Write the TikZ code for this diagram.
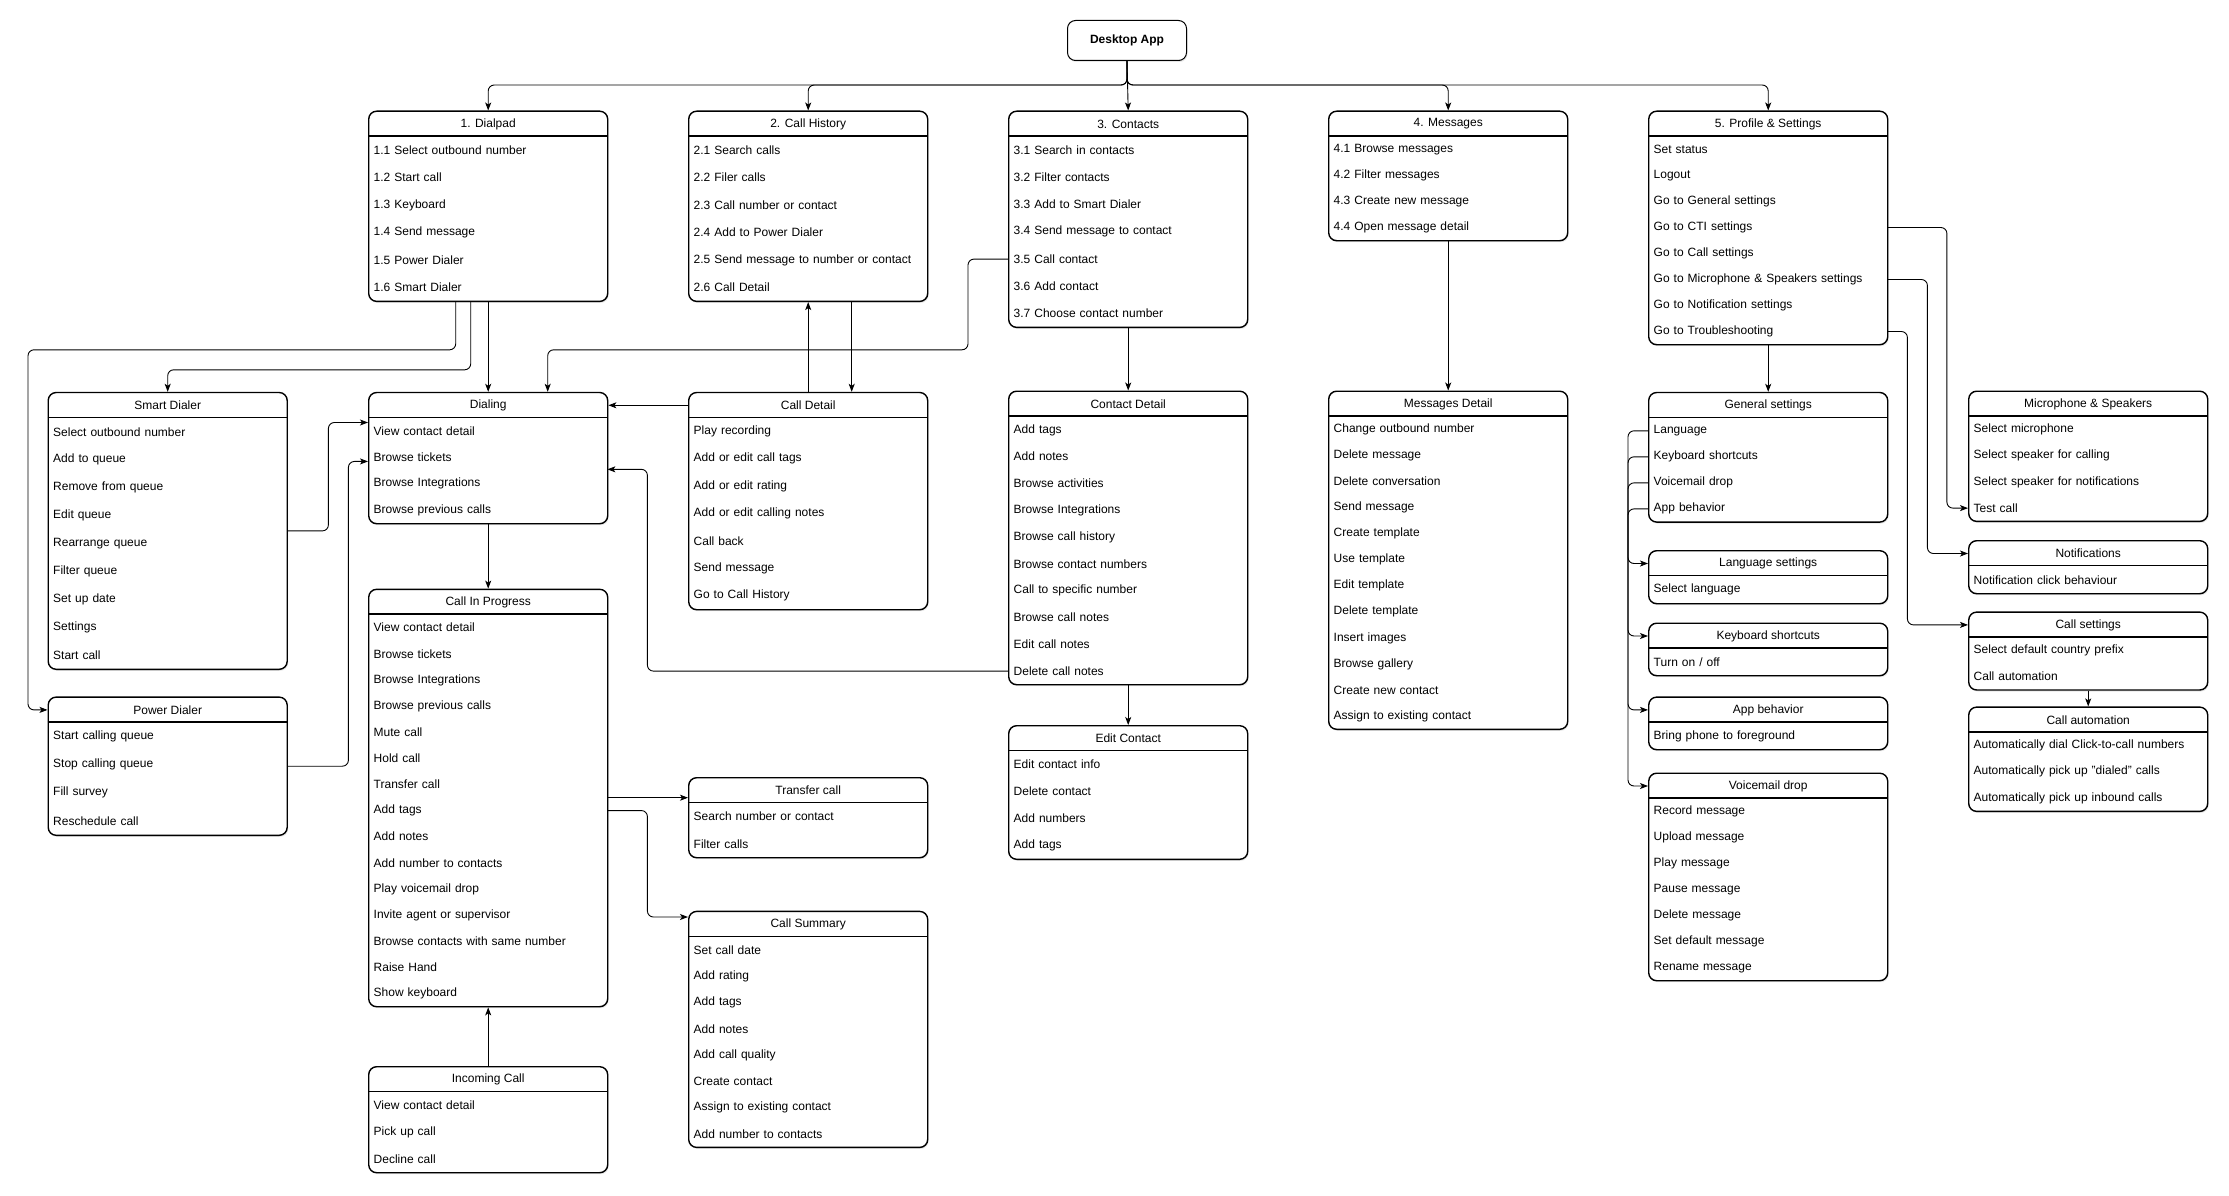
\documentclass[tikz,border=0pt]{standalone}
\usepackage{fontspec}
\setmainfont{Liberation Sans}
\usetikzlibrary{arrows.meta,positioning,calc,shadows}

% one screen: name, left, top, bottom, title, entries
\newcommand{\screenbox}[6]{%
  \pgfmathsetmacro\boxh{#4-#3}
  \node[screen, minimum height=\boxh pt, anchor=north west] (#1) at (#2,#3) {};
  \node[head] (#1-t) at ($(#1.north)+(0,13.5)$) {#5};
  \draw[rule] ($(#1.north west)+(0,25.5)$) -- ($(#1.north east)+(0,25.5)$);
  \foreach \e [count=\i] in {#6} {\xdef\nrows{\i}}
  \pgfmathsetmacro\rowh{(\boxh-25.5)/\nrows}
  \foreach \e [count=\i] in {#6}
    \node[entry] (#1-\i) at ($(#1.north west)+(0,{25.5+(\i-0.5)*\rowh+0.5})$) {\e};
}

\begin{document}
\begin{tikzpicture}[
  x=1pt, y=-1pt,
  screen/.style={draw, line width=1.4pt, rounded corners=8pt, fill=white,
                 minimum width=239pt, inner sep=0pt,
                 drop shadow={opacity=.2, shadow xshift=1pt, shadow yshift=-1.5pt}},
  head/.style={font=\fontsize{12}{14}\selectfont, inner sep=0pt},
  rule/.style={line width=1.4pt},
  entry/.style={anchor=west, text width=228pt, inner xsep=5.5pt, inner ysep=0pt,
                align=left, font=\fontsize{12}{14}\selectfont},
  link/.style={draw, line width=0.9pt, rounded corners=6pt,
               -{Stealth[length=8pt,width=6pt,inset=2pt]}}
]
  \useasboundingbox (0,0) rectangle (2229,1196);

  \node[screen, line width=1pt, minimum width=119pt, minimum height=40pt,
        font=\bfseries\fontsize{12}{14}\selectfont] (desktop) at (1127,40.5) {Desktop App};

  % main sections
  \screenbox{dialpad}{368}{110.5}{300.7}{1. Dialpad}{1.1 Select outbound number,1.2 Start call,
    1.3 Keyboard,1.4 Send message,1.5 Power Dialer,1.6 Smart Dialer}
  \screenbox{history}{688}{110.5}{300.7}{2. Call History}{2.1 Search calls,2.2 Filer calls,
    2.3 Call number or contact,2.4 Add to Power Dialer,2.5 Send message to number or contact,
    2.6 Call Detail}
  \screenbox{contacts}{1008}{110.5}{326.7}{3. Contacts}{3.1 Search in contacts,3.2 Filter contacts,
    3.3 Add to Smart Dialer,3.4 Send message to contact,3.5 Call contact,3.6 Add contact,
    3.7 Choose contact number}
  \screenbox{messages}{1328}{110.5}{240}{4. Messages}{4.1 Browse messages,4.2 Filter messages,
    4.3 Create new message,4.4 Open message detail}
  \screenbox{profile}{1648}{110.5}{344}{5. Profile \& Settings}{Set status,Logout,
    Go to General settings,Go to CTI settings,Go to Call settings,
    Go to Microphone \& Speakers settings,Go to Notification settings,Go to Troubleshooting}

  % dialpad side
  \screenbox{smart}{47.5}{391.8}{668.6}{Smart Dialer}{Select outbound number,Add to queue,
    Remove from queue,Edit queue,Rearrange queue,Filter queue,Set up date,Settings,Start call}
  \screenbox{power}{47.5}{696.4}{834.6}{Power Dialer}{Start calling queue,Stop calling queue,
    Fill survey,Reschedule call}
  \screenbox{dialing}{368}{391.8}{523}{Dialing}{View contact detail,Browse tickets,
    Browse Integrations,Browse previous calls}
  \screenbox{progress}{368}{588.6}{1006}{Call In Progress}{View contact detail,Browse tickets,
    Browse Integrations,Browse previous calls,Mute call,Hold call,Transfer call,Add tags,
    Add notes,Add number to contacts,Play voicemail drop,Invite agent or supervisor,
    Browse contacts with same number,Raise Hand,Show keyboard}
  \screenbox{incoming}{368}{1066}{1172}{Incoming Call}{View contact detail,Pick up call,
    Decline call}
  \screenbox{calldetail}{688}{391.8}{609}{Call Detail}{Play recording,Add or edit call tags,
    Add or edit rating,Add or edit calling notes,Call back,Send message,Go to Call History}
  \screenbox{transfer}{688}{777}{857}{Transfer call}{Search number or contact,Filter calls}
  \screenbox{summary}{688}{910.7}{1146.7}{Call Summary}{Set call date,Add rating,Add tags,
    Add notes,Add call quality,Create contact,Assign to existing contact,Add number to contacts}

  % contacts and messages
  \screenbox{contactdetail}{1008}{390.5}{684}{Contact Detail}{Add tags,Add notes,
    Browse activities,Browse Integrations,Browse call history,Browse contact numbers,
    Call to specific number,Browse call notes,Edit call notes,Delete call notes}
  \screenbox{editcontact}{1008}{725}{858.6}{Edit Contact}{Edit contact info,Delete contact,
    Add numbers,Add tags}
  \screenbox{msgdetail}{1328}{390.5}{728.6}{Messages Detail}{Change outbound number,
    Delete message,Delete conversation,Send message,Create template,Use template,
    Edit template,Delete template,Insert images,Browse gallery,Create new contact,
    Assign to existing contact}

  % settings
  \screenbox{general}{1648}{391.8}{521.4}{General settings}{Language,Keyboard shortcuts,
    Voicemail drop,App behavior}
  \screenbox{langset}{1648}{550}{603}{Language settings}{Select language}
  \screenbox{keyset}{1648}{622.5}{675}{Keyboard shortcuts}{{Turn on / off}}
  \screenbox{appset}{1648}{696.4}{749}{App behavior}{Bring phone to foreground}
  \screenbox{vmdrop}{1648}{772.5}{980}{Voicemail drop}{Record message,Upload message,
    Play message,Pause message,Delete message,Set default message,Rename message}
  \screenbox{micspk}{1968}{390.5}{520.7}{Microphone \& Speakers}{Select microphone,
    Select speaker for calling,Select speaker for notifications,Test call}
  \screenbox{notif}{1968}{540}{593}{Notifications}{Notification click behaviour}
  \screenbox{callset}{1968}{611.4}{689.3}{Call settings}{Select default country prefix,
    Call automation}
  \screenbox{autom}{1968}{706.4}{810.7}{Call automation}{Automatically dial Click-to-call numbers,
    Automatically pick up "dialed" calls,Automatically pick up inbound calls}

  % connectors
  \coordinate (bus) at (0,85);
  \foreach \t in {dialpad,history,messages,profile}
    \draw[link] (desktop.south) |- (\t.north |- bus) -- (\t.north);
  \draw[link] (desktop.south) -- (contacts.north);

  \draw[link] (dialpad.south) -- (dialing.north);
  \draw[link] ($(dialpad.south)+(-17.5,0)$) |- ($(smart.north)+(0,-22)$) -- (smart.north);
  \draw[link] ($(dialpad.south)+(-32.5,0)$) |- ($(smart.north west)+(-19.5,-42)$)
    |- (power.west |- power-t);
  \draw[link] (contacts-5.west) -- ++(-40,0) |- ($(dialing.north)+(59.5,-42)$)
    -- ($(dialing.north)+(59.5,0)$);
  \draw[link] (calldetail.north) -- (history.south);
  \draw[link] ($(history.south)+(43.5,0)$) -- ($(calldetail.north)+(43.5,0)$);
  \draw[link] (calldetail.west |- calldetail-t) -- (dialing.east |- calldetail-t);
  \coordinate (dial-in) at ($(dialing-2.east)!.45!(dialing-3.east)$);
  \draw[link] (contactdetail-10.west) -| ($(dial-in)+(40,0)$) -- (dial-in);
  \draw[link] (smart.east) -- ++(40.5,0) |- ($(dialing.north west)+(0,30.7)$);
  \draw[link] (power.east) -- ++(60.5,0) |- ($(dialing-2.west)+(0,4)$);
  \draw[link] (dialing.south) -- (progress.north);
  \coordinate (tr-in) at ($(transfer.north west)+(0,20.7)$);
  \draw[link] (progress.east |- tr-in) -- (tr-in);
  \draw[link] (progress-8.east) -- ++(40,0) |- ($(summary.north west)+(0,6.3)$);
  \draw[link] (incoming.north) -- (progress.south);

  \draw[link] (contacts.south) -- (contactdetail.north);
  \draw[link] (contactdetail.south) -- (editcontact.north);
  \draw[link] (messages.south) -- (msgdetail.north);
  \draw[link] (profile.south) -- (general.north);
  \foreach \i/\t in {1/langset,2/keyset,3/vmdrop,4/appset}
    \draw[link] (general-\i.west) -- ++(-20,0) |- (\t.west |- \t-t);
  \draw[link] (profile-4.east) -- ++(59.5,0) |- (micspk-4.west);
  \draw[link] (profile-6.east) -- ++(40,0) |- (notif.west |- notif-t);
  \draw[link] (profile-8.east) -- ++(20,0) |- (callset.west |- callset-t);
  \draw[link] (callset.south) -- (autom.north);
\end{tikzpicture}
\end{document}
